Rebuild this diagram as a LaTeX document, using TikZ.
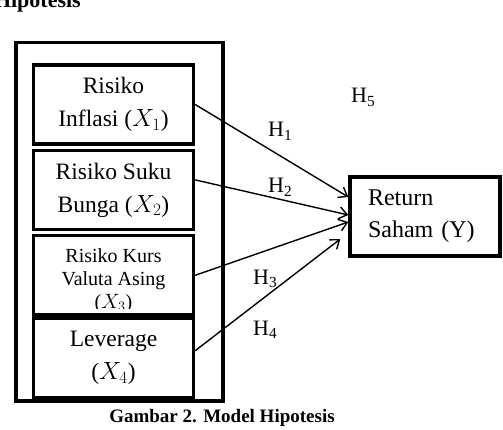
\documentclass[tikz,border=0pt]{standalone}
\usepackage{fontspec}
\setmainfont{Liberation Serif}
\usepackage{amsmath}
\usetikzlibrary{positioning,arrows.meta}

\begin{document}
\begin{tikzpicture}[x=1pt, y=1pt,
  kotak/.style={draw=black, line width=3.4pt, fill=white,
               minimum width=160pt, minimum height=79pt, align=center,
               inner sep=0pt, font=\fontsize{23.5}{33}\selectfont},
  panah/.style={-{Straight Barb[length=8pt, width=12pt]}, line width=1.4pt},
  hip/.style={anchor=base west, inner sep=0pt, font=\fontsize{22}{26}\selectfont}]
  \useasboundingbox (0,0) rectangle (503,-430);
  \node[anchor=base east, inner sep=0pt, font=\fontsize{22}{26}\selectfont\bfseries]
       (judul) at (81,-8) {Hipotesis};
  % bingkai variabel bebas
  \node[draw=black, line width=3.4pt, minimum width=207pt, minimum height=358.5pt,
        inner sep=0pt] (bingkai) at (119.5,-221.75) {};
  \node[kotak] (x1) at (113.5,-104.5) {Risiko\\Inflasi ($X_1$)};
  \node[kotak, below=3pt of x1] (x2) {Risiko Suku\\Bunga ($X_2$)};
  \node[kotak, below=3pt of x2] (x3) {};
  % teks X3 terpotong di bawah
  \begin{scope}
    \clip (x3.north west) rectangle ([yshift=8pt]x3.south east);
    \node[anchor=north, inner sep=0pt, align=center,
          font=\fontsize{20}{23}\selectfont] (x3teks) at ([yshift=-14pt]x3.north)
         {Risiko Kurs\\Valuta Asing\\($X_3$)};
  \end{scope}
  \node[kotak, below=0pt of x3] (x4) {Leverage\\($X_4$)};
  \node[kotak, minimum width=150pt, text width=114pt, inner xsep=18pt, align=left,
        font=\fontsize{24}{32}\selectfont] (ret) at (425,-216.5)
       {Return\\Saham (Y)};
  \draw[panah] ([yshift=0pt]x1.east) -- ([yshift=19.5pt]ret.west);
  \draw[panah] ([yshift=10pt]x2.east) -- ([yshift=1.5pt]ret.west);
  \draw[panah] (x3.east) -- ([yshift=-5.5pt]ret.west);
  \draw[panah] ([yshift=7pt]x4.east) -- ([xshift=-8pt, yshift=-22.5pt]ret.west);
  \node[hip] (h5) at (351,-103) {H\textsubscript{5}};
  \node[hip] (h1) at (268,-137) {H\textsubscript{1}};
  \node[hip] (h2) at (268,-193) {H\textsubscript{2}};
  \node[hip] (h3) at (253,-284) {H\textsubscript{3}};
  \node[hip] (h4) at (253,-335) {H\textsubscript{4}};
  \node[anchor=base, inner sep=0pt, font=\fontsize{19}{23}\selectfont\bfseries]
       (keterangan) at (222,-422) {Gambar 2. Model Hipotesis};
\end{tikzpicture}
\end{document}
